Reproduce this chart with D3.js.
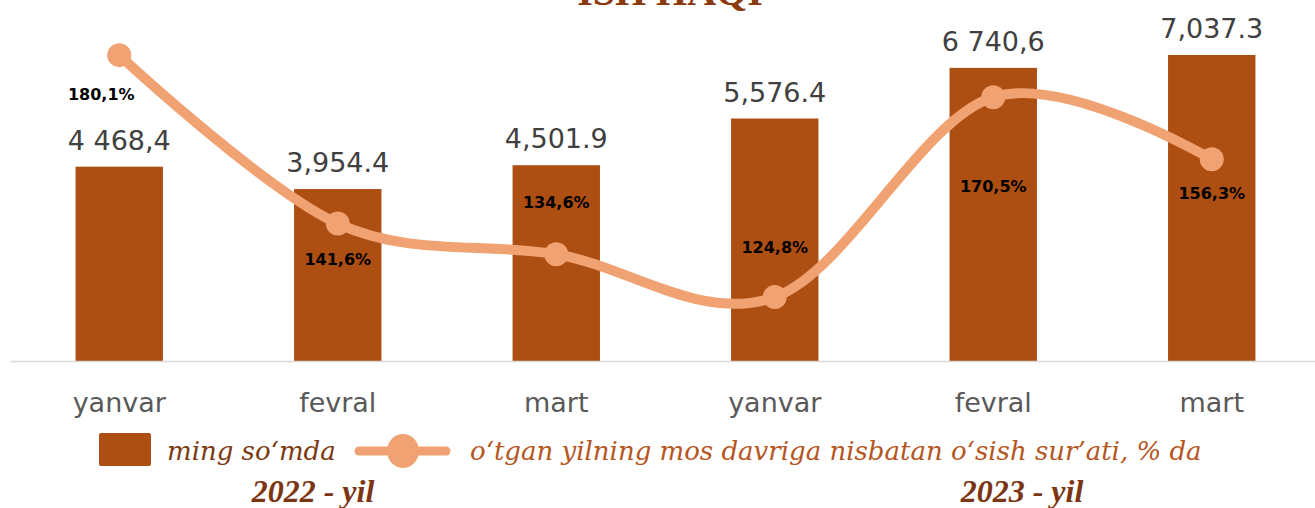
<!DOCTYPE html>
<html>
<head>
<meta charset="utf-8">
<script src="https://cdn.jsdelivr.net/npm/d3@7"></script>
<style>
  html, body { margin: 0; padding: 0; background: #fff; }
  svg { display: block; }
</style>
</head>
<body>
<div id="chart"></div>
<script>
// chart data
const months = ["yanvar", "fevral", "mart", "yanvar", "fevral", "mart"];
const wages = [4468.4, 3954.4, 4501.9, 5576.4, 6740.6, 7037.3];
const wageLabels = ["4 468,4", "3,954.4", "4,501.9", "5,576.4", "6 740,6", "7,037.3"];
const growth = [180.1, 141.6, 134.6, 124.8, 170.5, 156.3];
const growthLabels = ["180,1%", "141,6%", "134,6%", "124,8%", "170,5%", "156,3%"];
const yearLabels = ["2022 - yil", "2023 - yil"];

let width = 1315,
    height = 508,
    baseline = 361,
    barColor = "#ad4e12",
    lineColor = "#f0a272",
    labelColor = "#404040",
    legendBrown = "#7b3512"

// label placement relative to each marker (layout, not data)
const growthDx = [-18, 0, 0, 0, 0, 0];
const growthDy = [45, 41, -46, -44, 95, 40];

const svg = d3.select("#chart")
    .append("svg")
    .attr("width", width)
    .attr("height", height)
    .attr("viewBox", [0, 0, width, height]);

const I = d3.range(months.length);

// scales
const xScale = d3.scaleBand(I, [10, 1321]).paddingInner(0.6).paddingOuter(0.3);
const yScale = d3.scaleLinear([0, 8302], [baseline, 0]);
const y2Scale = d3.scaleLinear([110.2, 192.7], [baseline, 0]);
const cx = i => xScale(i) + xScale.bandwidth() / 2;

// title, mostly cut off at the top (as in the source)
svg.append("text")
    .attr("x", 670)
    .attr("y", 5)
    .attr("text-anchor", "middle")
    .attr("font-family", "Liberation Serif, serif")
    .attr("font-weight", "bold")
    .attr("font-size", 40)
    .attr("fill", "#8a3a0e")
    .text("ISH HAQI");

// bars
svg.append("g")
    .attr("fill", barColor)
    .selectAll("rect")
    .data(I)
    .join("rect")
    .attr("x", i => xScale(i))
    .attr("y", i => yScale(wages[i]))
    .attr("width", xScale.bandwidth())
    .attr("height", i => yScale(0) - yScale(wages[i]));

// x axis
const xAxis = d3.axisBottom(xScale).tickSize(0).tickFormat(i => months[i]);
svg.append("g")
    .attr("transform", `translate(0,${baseline})`)
    .call(xAxis)
    .call(g => g.select(".domain").attr("stroke", "#d9d9d9").attr("stroke-width", 1.5))
    .call(g => g.selectAll("text")
        .attr("dy", 0)
        .attr("y", 51)
        .attr("fill", "#595959")
        .attr("font-family", "DejaVu Sans, sans-serif")
        .attr("font-size", 27));

// bar value labels
svg.append("g")
    .attr("fill", labelColor)
    .attr("text-anchor", "middle")
    .attr("font-family", "DejaVu Sans, sans-serif")
    .attr("font-size", 27)
    .selectAll("text")
    .data(I)
    .join("text")
    .attr("x", cx)
    .attr("y", i => yScale(wages[i]) - 17)
    .text(i => wageLabels[i]);

// growth line
const line = d3.line()
    .x(i => cx(i))
    .y(i => y2Scale(growth[i]))
    .curve(d3.curveCatmullRom.alpha(0));

svg.append("path")
    .datum(I)
    .attr("fill", "none")
    .attr("stroke", lineColor)
    .attr("stroke-width", 10)
    .attr("stroke-linecap", "round")
    .attr("d", line);

svg.append("g")
    .attr("fill", lineColor)
    .selectAll("circle")
    .data(I)
    .join("circle")
    .attr("cx", cx)
    .attr("cy", i => y2Scale(growth[i]))
    .attr("r", 12);

// growth labels
svg.append("g")
    .attr("fill", "#000")
    .attr("text-anchor", "middle")
    .attr("font-family", "DejaVu Sans, sans-serif")
    .attr("font-weight", "bold")
    .attr("font-size", 16)
    .selectAll("text")
    .data(I)
    .join("text")
    .attr("x", i => cx(i) + growthDx[i])
    .attr("y", i => y2Scale(growth[i]) + growthDy[i])
    .text(i => growthLabels[i]);

// legend
const legend = svg.append("g");
legend.append("rect")
    .attr("x", 99).attr("y", 433)
    .attr("width", 52).attr("height", 33)
    .attr("rx", 2)
    .attr("fill", barColor);
legend.append("text")
    .attr("x", 167).attr("y", 460)
    .attr("font-family", "DejaVu Serif, serif")
    .attr("font-style", "italic")
    .attr("font-size", 26)
    .attr("fill", "#7b3a12")
    .text("ming so‘mda");
legend.append("line")
    .attr("x1", 359).attr("x2", 446)
    .attr("y1", 451).attr("y2", 451)
    .attr("stroke", lineColor)
    .attr("stroke-width", 9)
    .attr("stroke-linecap", "round");
legend.append("ellipse")
    .attr("cx", 403).attr("cy", 451)
    .attr("rx", 16).attr("ry", 17)
    .attr("fill", lineColor);
legend.append("text")
    .attr("x", 470).attr("y", 460)
    .attr("font-family", "DejaVu Serif, serif")
    .attr("font-style", "italic")
    .attr("font-size", 26)
    .attr("fill", "#b5561e")
    .text("o‘tgan yilning mos davriga nisbatan o‘sish sur’ati, % da");

svg.append("g")
    .attr("text-anchor", "middle")
    .attr("font-family", "Liberation Serif, serif")
    .attr("font-style", "italic")
    .attr("font-weight", "bold")
    .attr("font-size", 32)
    .attr("fill", legendBrown)
    .selectAll("text")
    .data(yearLabels)
    .join("text")
    .attr("x", (d, i) => [313, 1022][i])
    .attr("y", 502)
    .text(d => d);
</script>
</body>
</html>
